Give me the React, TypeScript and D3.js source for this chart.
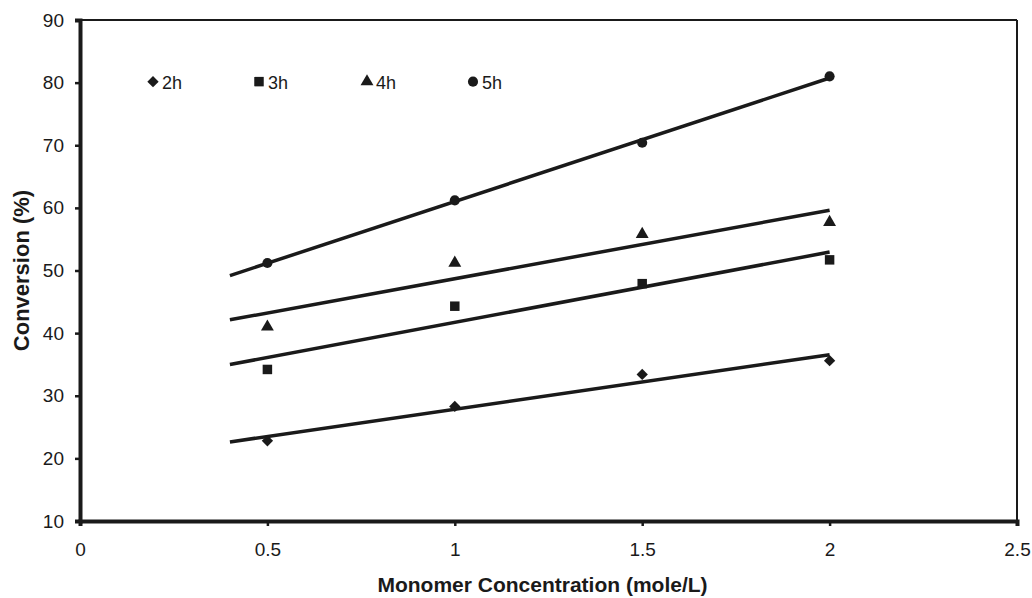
import React, { useEffect, useRef } from "react";
import * as d3 from "d3";

// data
const concentrations = [0.5, 1, 1.5, 2];
const seriesNames = ["2h", "3h", "4h", "5h"];
const conv2h = [22.8, 28.3, 33.4, 35.6];
const conv3h = [34.2, 44.3, 47.9, 51.7];
const conv4h = [41.0, 51.2, 55.8, 57.7];
const conv5h = [51.2, 61.2, 70.4, 81.0];
const xTicks = [0, 0.5, 1, 1.5, 2, 2.5];
const yTicks = [10, 20, 30, 40, 50, 60, 70, 80, 90];
const fitRange = [0.4, 2];

const App = () => {
  const svgRef = useRef(null);

  useEffect(() => {
    const width = 1032,
      height = 598;
    const margin = { top: 20, right: 15, bottom: 77, left: 80 };
    const font = "'Liberation Sans', Arial, sans-serif";
    const ink = "#1a1a1a";

    const svg = d3.select(svgRef.current);
    svg.selectAll("*").remove();
    svg.attr("width", width).attr("height", height);

    const x = d3
      .scaleLinear()
      .domain([0, 2.5])
      .range([margin.left, width - margin.right]);
    const y = d3
      .scaleLinear()
      .domain([10, 90])
      .range([height - margin.bottom, margin.top]);

    const allSeries = [conv2h, conv3h, conv4h, conv5h];
    // diamond = rotated square
    const symbols = [d3.symbolSquare, d3.symbolSquare, d3.symbolTriangle, d3.symbolCircle];
    const symSize = [64, 90, 72, 80];
    const symRotate = [45, 0, 0, 0];

    // frame (top + right thinner)
    svg
      .append("line")
      .attr("x1", x(0)).attr("x2", x(2.5))
      .attr("y1", y(90)).attr("y2", y(90))
      .attr("stroke", ink).attr("stroke-width", 2);
    svg
      .append("line")
      .attr("x1", x(2.5)).attr("x2", x(2.5))
      .attr("y1", y(90)).attr("y2", y(10))
      .attr("stroke", ink).attr("stroke-width", 2);

    // y axis
    const yAxis = svg
      .append("g")
      .attr("transform", `translate(${x(0)},0)`)
      .call(d3.axisLeft(y).tickValues(yTicks).tickSize(5).tickPadding(11));
    yAxis.select(".domain").attr("stroke", ink).attr("stroke-width", 4);
    yAxis.selectAll(".tick line").attr("stroke", ink).attr("stroke-width", 2.5);
    yAxis
      .selectAll(".tick text")
      .attr("fill", ink)
      .style("font-family", font)
      .style("font-size", "19px");

    // x axis
    const xAxis = svg
      .append("g")
      .attr("transform", `translate(0,${y(10)})`)
      .call(d3.axisBottom(x).tickValues(xTicks).tickSize(5).tickPadding(17).tickFormat((d) => `${d}`));
    xAxis.select(".domain").attr("stroke", ink).attr("stroke-width", 4);
    xAxis.selectAll(".tick line").attr("stroke", ink).attr("stroke-width", 2.5);
    xAxis
      .selectAll(".tick text")
      .attr("fill", ink)
      .style("font-family", font)
      .style("font-size", "19px");

    // linear trend lines
    allSeries.forEach((vals) => {
      const mx = d3.mean(concentrations);
      const my = d3.mean(vals);
      const sxy = d3.sum(concentrations, (c, i) => (c - mx) * (vals[i] - my));
      const sxx = d3.sum(concentrations, (c) => (c - mx) * (c - mx));
      const slope = sxy / sxx;
      const fit = (c) => my + slope * (c - mx);
      svg
        .append("line")
        .attr("x1", x(fitRange[0])).attr("y1", y(fit(fitRange[0])))
        .attr("x2", x(fitRange[1])).attr("y2", y(fit(fitRange[1])))
        .attr("stroke", ink)
        .attr("stroke-width", 3.5);
    });

    // markers
    allSeries.forEach((vals, s) => {
      svg
        .append("g")
        .selectAll("path")
        .data(vals)
        .enter()
        .append("path")
        .attr("transform", (d, i) => `translate(${x(concentrations[i])},${y(d)}) rotate(${symRotate[s]})`)
        .attr("d", d3.symbol().type(symbols[s]).size(symSize[s]))
        .attr("fill", ink);
    });

    // legend
    const legendX = [153, 259, 367, 473];
    const legend = svg.append("g").attr("transform", `translate(0,${y(80) - 1})`);
    seriesNames.forEach((name, s) => {
      legend
        .append("path")
        .attr("transform", `translate(${legendX[s]},0) rotate(${symRotate[s]})`)
        .attr("d", d3.symbol().type(symbols[s]).size(symSize[s]))
        .attr("fill", ink);
      legend
        .append("text")
        .attr("x", legendX[s] + 9)
        .attr("y", 7)
        .attr("fill", ink)
        .style("font-family", font)
        .style("font-size", "18px")
        .text(name);
    });

    // axis titles
    svg
      .append("text")
      .attr("x", (x(0) + x(2.5)) / 2 - 6)
      .attr("y", 592)
      .attr("text-anchor", "middle")
      .attr("fill", ink)
      .style("font-family", font)
      .style("font-size", "21px")
      .style("font-weight", "bold")
      .text("Monomer Concentration (mole/L)");
    svg
      .append("text")
      .attr("transform", `translate(29,${(y(10) + y(90)) / 2}) rotate(-90)`)
      .attr("text-anchor", "middle")
      .attr("fill", ink)
      .style("font-family", font)
      .style("font-size", "22px")
      .style("font-weight", "bold")
      .text("Conversion (%)");
  }, []);

  return (
    <svg
      ref={svgRef}
      style={{ position: "absolute", left: 0, top: 0, background: "#fff" }}
    ></svg>
  );
};

export default App;
